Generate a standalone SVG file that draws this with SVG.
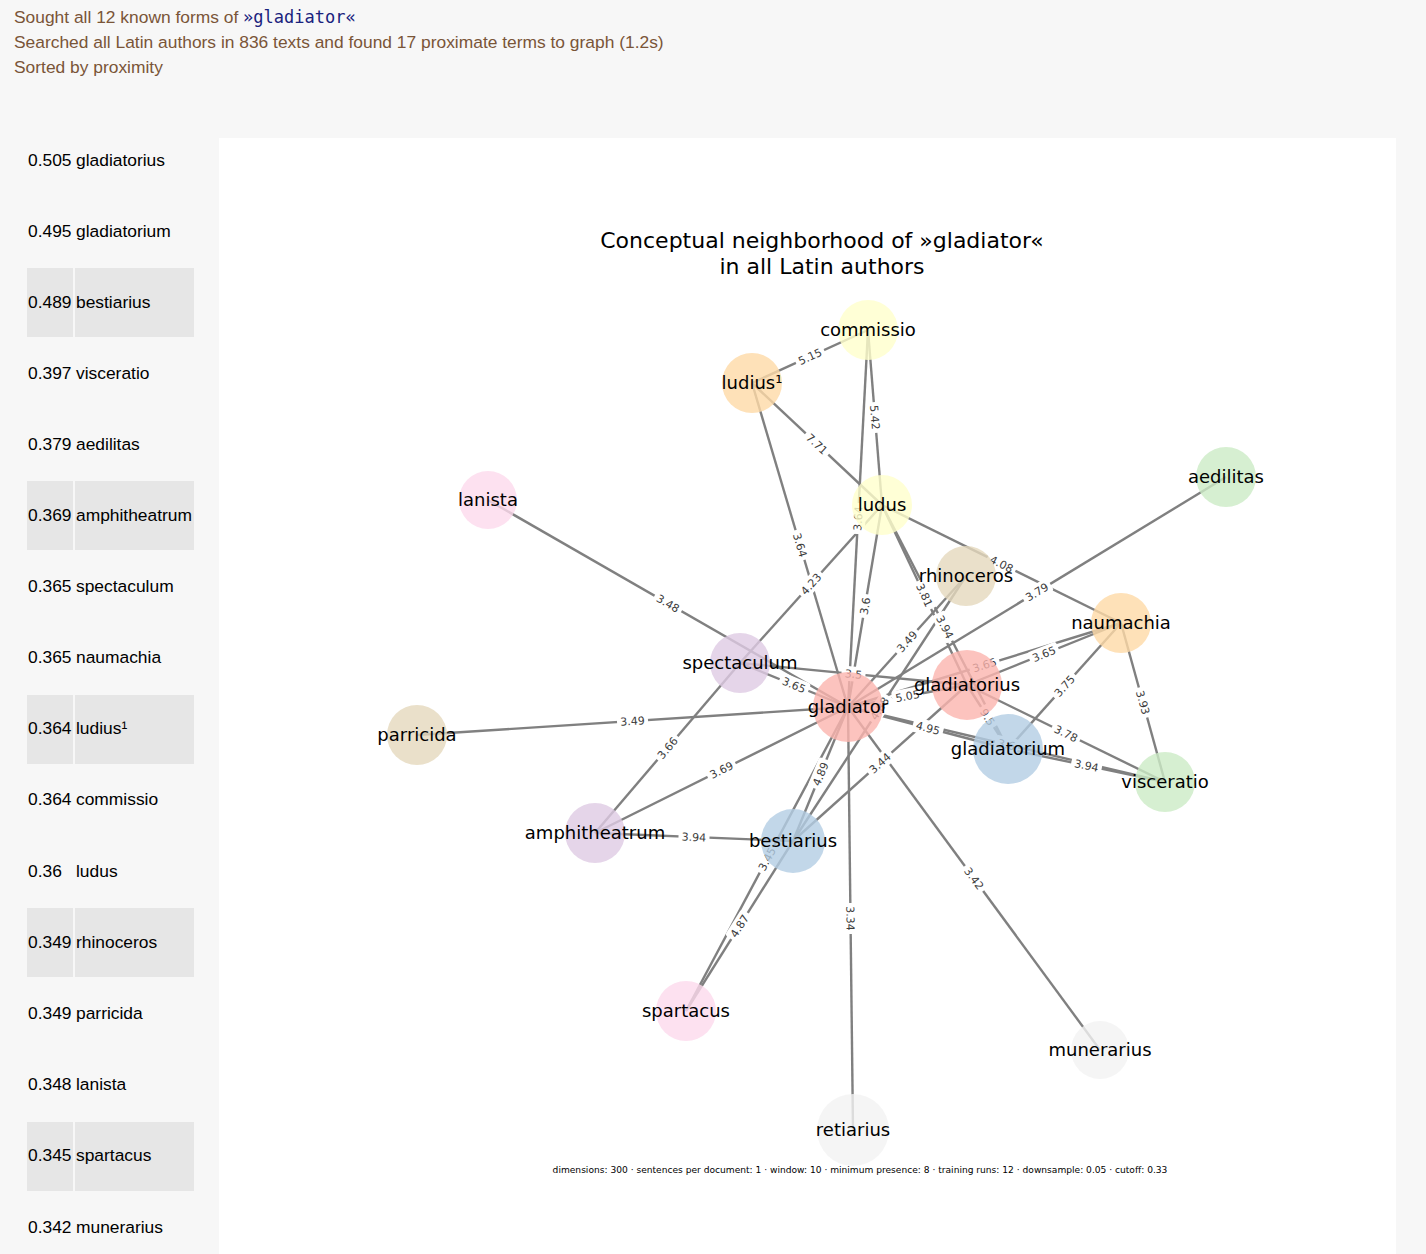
<svg xmlns="http://www.w3.org/2000/svg" width="1426" height="1254" viewBox="0 0 1426 1254">
<style>
.hdr{font-family:"Liberation Sans",Arial,sans-serif;font-size:17.4px;fill:#7a5538}
.mono{font-family:"DejaVu Sans Mono",monospace;font-size:17px;fill:#1a237e}
.lst{font-family:"Liberation Sans",Arial,sans-serif;font-size:17.4px;fill:#000}
.shade{fill:#e6e6e6}
.edges line{stroke:#808080;stroke-width:2.4;stroke-linecap:butt}
.el rect{fill:#fff}
.el text{font-family:"DejaVu Sans",sans-serif;font-size:11px;fill:#3c3c3c;text-anchor:middle}
.node circle{fill-opacity:0.8}
.node text{font-family:"DejaVu Sans",sans-serif;font-size:18px;fill:#000;text-anchor:middle}
.title{font-family:"DejaVu Sans",sans-serif;font-size:22px;fill:#000;text-anchor:middle}
.foot{font-family:"DejaVu Sans",sans-serif;font-size:9.1px;fill:#000;text-anchor:middle}
</style>
<rect x="0" y="0" width="1426" height="1254" fill="#f7f7f7"/>
<text class="hdr" x="14" y="23">Sought all 12 known forms of <tspan class="mono">»gladiator«</tspan></text>
<text class="hdr" x="14" y="48">Searched all Latin authors in 836 texts and found 17 proximate terms to graph (1.2s)</text>
<text class="hdr" x="14" y="73">Sorted by proximity</text>

<g id="list">
<rect class="shade" x="27" y="268" width="46" height="69"/><rect class="shade" x="75" y="268" width="119" height="69"/>
<rect class="shade" x="27" y="481" width="46" height="69"/><rect class="shade" x="75" y="481" width="119" height="69"/>
<rect class="shade" x="27" y="695" width="46" height="69"/><rect class="shade" x="75" y="695" width="119" height="69"/>
<rect class="shade" x="27" y="908" width="46" height="69"/><rect class="shade" x="75" y="908" width="119" height="69"/>
<rect class="shade" x="27" y="1122" width="46" height="69"/><rect class="shade" x="75" y="1122" width="119" height="69"/>
<text class="lst" x="28" y="166">0.505</text><text class="lst" x="76" y="166">gladiatorius</text>
<text class="lst" x="28" y="237">0.495</text><text class="lst" x="76" y="237">gladiatorium</text>
<text class="lst" x="28" y="308">0.489</text><text class="lst" x="76" y="308">bestiarius</text>
<text class="lst" x="28" y="379">0.397</text><text class="lst" x="76" y="379">visceratio</text>
<text class="lst" x="28" y="450">0.379</text><text class="lst" x="76" y="450">aedilitas</text>
<text class="lst" x="28" y="521">0.369</text><text class="lst" x="76" y="521">amphitheatrum</text>
<text class="lst" x="28" y="592">0.365</text><text class="lst" x="76" y="592">spectaculum</text>
<text class="lst" x="28" y="663">0.365</text><text class="lst" x="76" y="663">naumachia</text>
<text class="lst" x="28" y="734">0.364</text><text class="lst" x="76" y="734">ludius¹</text>
<text class="lst" x="28" y="805">0.364</text><text class="lst" x="76" y="805">commissio</text>
<text class="lst" x="28" y="877">0.36</text><text class="lst" x="76" y="877">ludus</text>
<text class="lst" x="28" y="948">0.349</text><text class="lst" x="76" y="948">rhinoceros</text>
<text class="lst" x="28" y="1019">0.349</text><text class="lst" x="76" y="1019">parricida</text>
<text class="lst" x="28" y="1090">0.348</text><text class="lst" x="76" y="1090">lanista</text>
<text class="lst" x="28" y="1161">0.345</text><text class="lst" x="76" y="1161">spartacus</text>
<text class="lst" x="28" y="1233">0.342</text><text class="lst" x="76" y="1233">munerarius</text>
</g>

<rect x="219" y="138" width="1177" height="1130" fill="#fff"/>
<text class="title" x="822" y="248">Conceptual neighborhood of »gladiator«</text>
<text class="title" x="822" y="274">in all Latin authors</text>

<g id="edges" class="edges">
<line x1="868" y1="330" x2="752" y2="383"/>
<line x1="868" y1="330" x2="882" y2="505"/>
<line x1="868" y1="330" x2="848" y2="707"/>
<line x1="752" y1="383" x2="882" y2="505"/>
<line x1="752" y1="383" x2="848" y2="707"/>
<line x1="882" y1="505" x2="848" y2="707"/>
<line x1="882" y1="505" x2="740" y2="663"/>
<line x1="882" y1="505" x2="967" y2="685"/>
<line x1="882" y1="505" x2="1121" y2="623"/>
<line x1="882" y1="505" x2="1008" y2="749"/>
<line x1="966" y1="576" x2="848" y2="707"/>
<line x1="966" y1="576" x2="793" y2="841"/>
<line x1="1226" y1="477" x2="848" y2="707"/>
<line x1="1121" y1="623" x2="967" y2="685"/>
<line x1="1121" y1="623" x2="848" y2="707"/>
<line x1="1121" y1="623" x2="1008" y2="749"/>
<line x1="1121" y1="623" x2="1165" y2="782"/>
<line x1="967" y1="685" x2="1165" y2="782"/>
<line x1="1008" y1="749" x2="1165" y2="782"/>
<line x1="848" y1="707" x2="1008" y2="749"/>
<line x1="848" y1="707" x2="967" y2="685"/>
<line x1="740" y1="663" x2="967" y2="685"/>
<line x1="740" y1="663" x2="848" y2="707"/>
<line x1="488" y1="500" x2="848" y2="707"/>
<line x1="417" y1="735" x2="848" y2="707"/>
<line x1="595" y1="833" x2="848" y2="707"/>
<line x1="595" y1="833" x2="793" y2="841"/>
<line x1="740" y1="663" x2="595" y2="833"/>
<line x1="848" y1="707" x2="793" y2="841"/>
<line x1="686" y1="1011" x2="848" y2="707"/>
<line x1="686" y1="1011" x2="793" y2="841"/>
<line x1="967" y1="685" x2="793" y2="841"/>
<line x1="848" y1="707" x2="853" y2="1130"/>
<line x1="848" y1="707" x2="1100" y2="1050"/>
<line x1="967" y1="685" x2="1008" y2="749"/>
<line x1="848" y1="707" x2="1165" y2="782"/>
</g>

<g id="edge-labels">
<g class="el" transform="translate(810,356.5) rotate(-24.6)"><rect x="-15.5" y="-7.5" width="31" height="15" rx="3"/><text y="4">5.15</text></g>
<g class="el" transform="translate(875,417.5) rotate(85.4)"><rect x="-15.5" y="-7.5" width="31" height="15" rx="3"/><text y="4">5.42</text></g>
<g class="el" transform="translate(858,518.5) rotate(-87)"><rect x="-15.5" y="-7.5" width="31" height="15" rx="3"/><text y="4">3.64</text></g>
<g class="el" transform="translate(817,444) rotate(43.2)"><rect x="-15.5" y="-7.5" width="31" height="15" rx="3"/><text y="4">7.71</text></g>
<g class="el" transform="translate(800,545) rotate(73.5)"><rect x="-15.5" y="-7.5" width="31" height="15" rx="3"/><text y="4">3.64</text></g>
<g class="el" transform="translate(865,606) rotate(-80.4)"><rect x="-12" y="-7.5" width="24" height="15" rx="3"/><text y="4">3.6</text></g>
<g class="el" transform="translate(811,584) rotate(-48.1)"><rect x="-15.5" y="-7.5" width="31" height="15" rx="3"/><text y="4">4.23</text></g>
<g class="el" transform="translate(924.5,595) rotate(64.7)"><rect x="-15.5" y="-7.5" width="31" height="15" rx="3"/><text y="4">3.81</text></g>
<g class="el" transform="translate(1001.5,564) rotate(26.3)"><rect x="-15.5" y="-7.5" width="31" height="15" rx="3"/><text y="4">4.08</text></g>
<g class="el" transform="translate(945,627) rotate(62.7)"><rect x="-15.5" y="-7.5" width="31" height="15" rx="3"/><text y="4">3.94</text></g>
<g class="el" transform="translate(907,641.5) rotate(-48)"><rect x="-15.5" y="-7.5" width="31" height="15" rx="3"/><text y="4">3.49</text></g>
<g class="el" transform="translate(879.5,708.5) rotate(-56.9)"><rect x="-15.5" y="-7.5" width="31" height="15" rx="3"/><text y="4">4.88</text></g>
<g class="el" transform="translate(1037,592) rotate(-31.3)"><rect x="-15.5" y="-7.5" width="31" height="15" rx="3"/><text y="4">3.79</text></g>
<g class="el" transform="translate(1044,654) rotate(-21.9)"><rect x="-15.5" y="-7.5" width="31" height="15" rx="3"/><text y="4">3.65</text></g>
<g class="el" transform="translate(984.5,665) rotate(-17.1)"><rect x="-15.5" y="-7.5" width="31" height="15" rx="3"/><text y="4">3.65</text></g>
<g class="el" transform="translate(1064.5,686) rotate(-48.1)"><rect x="-15.5" y="-7.5" width="31" height="15" rx="3"/><text y="4">3.75</text></g>
<g class="el" transform="translate(1143,702.5) rotate(74.5)"><rect x="-15.5" y="-7.5" width="31" height="15" rx="3"/><text y="4">3.93</text></g>
<g class="el" transform="translate(1066,733.5) rotate(26.1)"><rect x="-15.5" y="-7.5" width="31" height="15" rx="3"/><text y="4">3.78</text></g>
<g class="el" transform="translate(1086.5,765.5) rotate(11.9)"><rect x="-15.5" y="-7.5" width="31" height="15" rx="3"/><text y="4">3.94</text></g>
<g class="el" transform="translate(928,728) rotate(14.7)"><rect x="-15.5" y="-7.5" width="31" height="15" rx="3"/><text y="4">4.95</text></g>
<g class="el" transform="translate(907.5,696) rotate(-10.5)"><rect x="-15.5" y="-7.5" width="31" height="15" rx="3"/><text y="4">5.05</text></g>
<g class="el" transform="translate(853.5,674) rotate(5.5)"><rect x="-12" y="-7.5" width="24" height="15" rx="3"/><text y="4">3.5</text></g>
<g class="el" transform="translate(794,685) rotate(22.2)"><rect x="-15.5" y="-7.5" width="31" height="15" rx="3"/><text y="4">3.65</text></g>
<g class="el" transform="translate(668,603.5) rotate(29.9)"><rect x="-15.5" y="-7.5" width="31" height="15" rx="3"/><text y="4">3.48</text></g>
<g class="el" transform="translate(632.5,721) rotate(-3.7)"><rect x="-15.5" y="-7.5" width="31" height="15" rx="3"/><text y="4">3.49</text></g>
<g class="el" transform="translate(721.5,770) rotate(-26.5)"><rect x="-15.5" y="-7.5" width="31" height="15" rx="3"/><text y="4">3.69</text></g>
<g class="el" transform="translate(694,837) rotate(2.3)"><rect x="-15.5" y="-7.5" width="31" height="15" rx="3"/><text y="4">3.94</text></g>
<g class="el" transform="translate(667.5,748) rotate(-49.5)"><rect x="-15.5" y="-7.5" width="31" height="15" rx="3"/><text y="4">3.66</text></g>
<g class="el" transform="translate(820.5,774) rotate(-67.7)"><rect x="-15.5" y="-7.5" width="31" height="15" rx="3"/><text y="4">4.89</text></g>
<g class="el" transform="translate(767,859) rotate(-61.9)"><rect x="-15.5" y="-7.5" width="31" height="15" rx="3"/><text y="4">3.45</text></g>
<g class="el" transform="translate(739.5,926) rotate(-57.8)"><rect x="-15.5" y="-7.5" width="31" height="15" rx="3"/><text y="4">4.87</text></g>
<g class="el" transform="translate(880,763) rotate(-41.9)"><rect x="-15.5" y="-7.5" width="31" height="15" rx="3"/><text y="4">3.44</text></g>
<g class="el" transform="translate(850.5,918.5) rotate(89.3)"><rect x="-15.5" y="-7.5" width="31" height="15" rx="3"/><text y="4">3.34</text></g>
<g class="el" transform="translate(974,878.5) rotate(53.7)"><rect x="-15.5" y="-7.5" width="31" height="15" rx="3"/><text y="4">3.42</text></g>
<g class="el" transform="translate(987.5,717) rotate(57.4)"><rect x="-12" y="-7.5" width="24" height="15" rx="3"/><text y="4">9.5</text></g>
<g class="el" transform="translate(1006.5,744.5) rotate(13.3)"><rect x="-12" y="-7.5" width="24" height="15" rx="3"/><text y="4">3.6</text></g>
</g>

<g id="nodes">
<g id="n-commissio" class="node"><circle cx="868" cy="330" r="30" fill="#ffffcc"/><text x="868" y="336">commissio</text></g>
<g id="n-ludius1" class="node"><circle cx="752" cy="383" r="30" fill="#fed9a6"/><text x="752" y="389">ludius¹</text></g>
<g id="n-ludus" class="node"><circle cx="882" cy="505" r="30" fill="#ffffcc"/><text x="882" y="511">ludus</text></g>
<g id="n-lanista" class="node"><circle cx="488" cy="500" r="29" fill="#fddaec"/><text x="488" y="506">lanista</text></g>
<g id="n-aedilitas" class="node"><circle cx="1226" cy="477" r="30" fill="#ccebc5"/><text x="1226" y="483">aedilitas</text></g>
<g id="n-rhinoceros" class="node"><circle cx="966" cy="576" r="30" fill="#e5d8bd"/><text x="966" y="582">rhinoceros</text></g>
<g id="n-naumachia" class="node"><circle cx="1121" cy="623" r="30" fill="#fed9a6"/><text x="1121" y="629">naumachia</text></g>
<g id="n-spectaculum" class="node"><circle cx="740" cy="663" r="30" fill="#decbe4"/><text x="740" y="669">spectaculum</text></g>
<g id="n-parricida" class="node"><circle cx="417" cy="735" r="30" fill="#e5d8bd"/><text x="417" y="741">parricida</text></g>
<g id="n-gladiatorius" class="node"><circle cx="967" cy="685" r="35" fill="#fbb4ae"/><text x="967" y="691">gladiatorius</text></g>
<g id="n-gladiator" class="node"><circle cx="848" cy="707" r="35" fill="#fbb4ae"/><text x="848" y="713">gladiator</text></g>
<g id="n-gladiatorium" class="node"><circle cx="1008" cy="749" r="35" fill="#b3cde3"/><text x="1008" y="755">gladiatorium</text></g>
<g id="n-visceratio" class="node"><circle cx="1165" cy="782" r="30" fill="#ccebc5"/><text x="1165" y="788">visceratio</text></g>
<g id="n-amphitheatrum" class="node"><circle cx="595" cy="833" r="30" fill="#decbe4"/><text x="595" y="839">amphitheatrum</text></g>
<g id="n-bestiarius" class="node"><circle cx="793" cy="841" r="32" fill="#b3cde3"/><text x="793" y="847">bestiarius</text></g>
<g id="n-spartacus" class="node"><circle cx="686" cy="1011" r="30" fill="#fddaec"/><text x="686" y="1017">spartacus</text></g>
<g id="n-munerarius" class="node"><circle cx="1100" cy="1050" r="29" fill="#f2f2f2"/><text x="1100" y="1056">munerarius</text></g>
<g id="n-retiarius" class="node"><circle cx="853" cy="1130" r="36" fill="#f2f2f2"/><text x="853" y="1136">retiarius</text></g>
</g>

<text class="foot" x="860" y="1173">dimensions: 300 · sentences per document: 1 · window: 10 · minimum presence: 8 · training runs: 12 · downsample: 0.05 · cutoff: 0.33</text>
</svg>
